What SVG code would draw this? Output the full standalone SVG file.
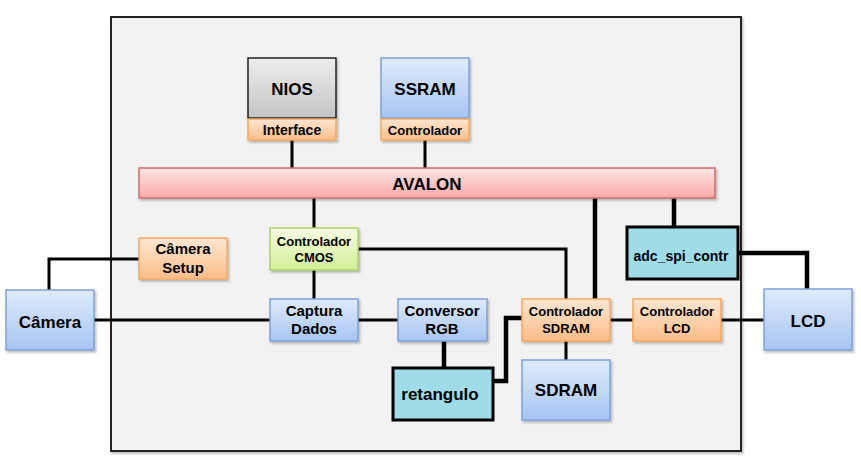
<svg xmlns="http://www.w3.org/2000/svg" width="861" height="459" viewBox="0 0 861 459">
<defs>
<linearGradient id="gBlue" x1="0" y1="0" x2="0" y2="1"><stop offset="0" stop-color="#e0ebfc"/><stop offset="1" stop-color="#a6c4f3"/></linearGradient>
<linearGradient id="gOrange" x1="0" y1="0" x2="0" y2="1"><stop offset="0" stop-color="#fde6d2"/><stop offset="1" stop-color="#fbbd88"/></linearGradient>
<linearGradient id="gGray" x1="0" y1="0" x2="0" y2="1"><stop offset="0" stop-color="#ededed"/><stop offset="1" stop-color="#c4c4c4"/></linearGradient>
<linearGradient id="gPink" x1="0" y1="0" x2="0" y2="1"><stop offset="0" stop-color="#fee6e6"/><stop offset="1" stop-color="#f8a8a8"/></linearGradient>
<linearGradient id="gGreen" x1="0" y1="0" x2="0" y2="1"><stop offset="0" stop-color="#f5fde2"/><stop offset="1" stop-color="#d4ef98"/></linearGradient>
<filter id="sh" x="-10%" y="-10%" width="130%" height="140%"><feDropShadow dx="1.5" dy="2" stdDeviation="1.2" flood-color="#000" flood-opacity="0.25"/></filter>
</defs>
<style>
text{font-family:"Liberation Sans",Arial,sans-serif;font-weight:bold;fill:#000;text-anchor:middle}
.blue{fill:url(#gBlue);stroke:#7ea3da;stroke-width:1.5;filter:url(#sh)}
.orange{fill:url(#gOrange);stroke:#f5a862;stroke-width:1.5;filter:url(#sh)}
.gray{fill:url(#gGray);stroke:#222;stroke-width:1.5;filter:url(#sh)}
.pink{fill:url(#gPink);stroke:#d46b6b;stroke-width:1.5;filter:url(#sh)}
.green{fill:url(#gGreen);stroke:#a9d466;stroke-width:1.5;filter:url(#sh)}
.teal{fill:#a0dbe8;stroke:#000;stroke-width:3}
.ln{fill:none;stroke:#000;stroke-width:3}
.thick{fill:none;stroke:#000;stroke-width:4.5}
.big{font-size:17px}
.mid{font-size:15px}
.sm{font-size:13px}
</style>
<rect x="111" y="17" width="630" height="434" fill="#f2f2f2" stroke="#222" stroke-width="2" filter="url(#sh)"/>
<g id="connectors">
<path class="ln" d="M292,140 V168"/>
<path class="ln" d="M425,140 V168"/>
<path class="ln" d="M314,198 V229"/>
<path class="ln" d="M358,249 H566 V299"/>
<path class="ln" d="M314,270 V299"/>
<path class="ln" d="M227,259 H49 V290"/>
<path class="ln" d="M94,320 H270"/>
<path class="ln" d="M358,320 H398"/>
<path class="thick" d="M444,341 V369"/>
<path class="thick" d="M493,381 H506 V318 H523"/>
<path class="ln" d="M566,341 V360"/>
<path class="ln" d="M610,320 H633"/>
<path class="ln" d="M721,320 H764"/>
<path class="thick" d="M595,195 V299"/>
<path class="thick" d="M674,198 V227"/>
<path class="thick" d="M738,253 H807 V289"/>
</g>
<g id="nios"><rect class="gray" x="248" y="58" width="88" height="60"/><text class="big" x="292" y="95">NIOS</text></g>
<g id="interface"><rect class="orange" x="248" y="119" width="88" height="21"/><text x="292" y="135" style="font-size:14px">Interface</text></g>
<g id="ssram"><rect class="blue" x="381" y="58" width="88" height="60"/><text class="big" x="425" y="95">SSRAM</text></g>
<g id="ssram-ctrl"><rect class="orange" x="381" y="119" width="88" height="21"/><text class="sm" x="425" y="135">Controlador</text></g>
<g id="avalon"><rect class="pink" x="139" y="168" width="576" height="30"/><text class="big" x="427" y="190">AVALON</text></g>
<g id="cmos"><rect class="green" x="270" y="228" width="88" height="42"/><text class="sm" x="314" y="246">Controlador</text><text class="sm" x="314" y="262">CMOS</text></g>
<g id="camera-setup"><rect class="orange" x="139" y="238" width="88" height="41"/><text class="mid" x="183" y="254">Câmera</text><text class="mid" x="183" y="273">Setup</text></g>
<g id="camera"><rect class="blue" x="6" y="290" width="88" height="60"/><text class="big" x="50" y="328">Câmera</text></g>
<g id="captura"><rect class="blue" x="270" y="299" width="88" height="42"/><text class="mid" x="314" y="316">Captura</text><text class="mid" x="314" y="334">Dados</text></g>
<g id="conversor"><rect class="blue" x="398" y="299" width="89" height="42"/><text class="mid" x="442" y="316">Conversor</text><text class="mid" x="442" y="334">RGB</text></g>
<g id="retangulo"><rect class="teal" x="393" y="368" width="100" height="52"/><text class="big" x="440" y="400">retangulo</text></g>
<g id="sdram-ctrl"><rect class="orange" x="522" y="299" width="88" height="42"/><text class="sm" x="566" y="316">Controlador</text><text class="sm" x="566" y="333">SDRAM</text></g>
<g id="sdram"><rect class="blue" x="522" y="360" width="88" height="60"/><text class="big" x="566" y="396">SDRAM</text></g>
<g id="lcd-ctrl"><rect class="orange" x="633" y="299" width="88" height="42"/><text class="sm" x="677" y="316">Controlador</text><text class="sm" x="677" y="333">LCD</text></g>
<g id="lcd"><rect class="blue" x="764" y="289" width="88" height="61"/><text class="big" x="808" y="327">LCD</text></g>
<g id="adc"><rect class="teal" x="627" y="227" width="111" height="52"/><text x="681" y="261" style="font-size:14px">adc_spi_contr</text></g>
</svg>
